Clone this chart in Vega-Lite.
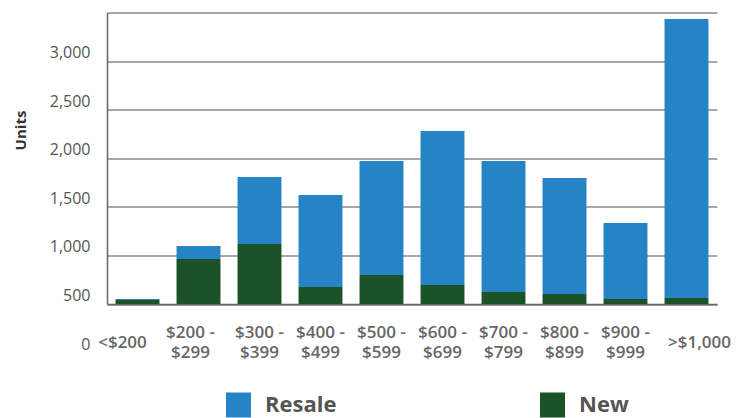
{
  "$schema": "https://vega.github.io/schema/vega-lite/v6.json",
  "width": 610,
  "height": 291.5,
  "autosize": {"type": "none"},
  "padding": {"left": 107, "top": 12.5, "right": 31, "bottom": 114},
  "background": "white",
  "config": {"view": {"stroke": null}, "font": "Open Sans"},
  "data": {
    "values": [
      {"range": "<$200", "type": "New", "units": 41},
      {"range": "<$200", "type": "Resale", "units": 10},
      {"range": "$200 - $299", "type": "New", "units": 463},
      {"range": "$200 - $299", "type": "Resale", "units": 134},
      {"range": "$300 - $399", "type": "New", "units": 617},
      {"range": "$300 - $399", "type": "Resale", "units": 690},
      {"range": "$400 - $499", "type": "New", "units": 175},
      {"range": "$400 - $499", "type": "Resale", "units": 946},
      {"range": "$500 - $599", "type": "New", "units": 298},
      {"range": "$500 - $599", "type": "Resale", "units": 1173},
      {"range": "$600 - $699", "type": "New", "units": 195},
      {"range": "$600 - $699", "type": "Resale", "units": 1585},
      {"range": "$700 - $799", "type": "New", "units": 123},
      {"range": "$700 - $799", "type": "Resale", "units": 1348},
      {"range": "$800 - $899", "type": "New", "units": 103},
      {"range": "$800 - $899", "type": "Resale", "units": 1193},
      {"range": "$900 - $999", "type": "New", "units": 51},
      {"range": "$900 - $999", "type": "Resale", "units": 782},
      {"range": ">$1,000", "type": "New", "units": 62},
      {"range": ">$1,000", "type": "Resale", "units": 2870}
    ]
  },
  "mark": {"type": "bar"},
  "encoding": {
    "x": {
      "field": "range",
      "type": "nominal",
      "sort": null,
      "scale": {"paddingInner": 0.28, "paddingOuter": 0.14},
      "axis": {
        "title": null,
        "labelAngle": 0,
        "labelExpr": "indexof(datum.value, ' - ') > 0 ? [slice(datum.value, 0, indexof(datum.value, ' - ') + 2), slice(datum.value, indexof(datum.value, ' - ') + 3)] : datum.value",
        "labelFont": "Open Sans",
        "labelFontSize": 17,
        "labelFontWeight": 600,
        "labelColor": "#666666",
        "labelBaseline": "middle",
        "labelLineHeight": 20,
        "labelPadding": {"condition": {"test": "datum.value == '<$200' || datum.value == '>$1,000'", "value": 38}, "value": 28},
        "labelOffset": {"condition": [
          {"test": "datum.value == '<$200'", "value": -15},
          {"test": "datum.value == '$200 - $299'", "value": -8},
          {"test": "datum.value == '>$1,000'", "value": 13}
        ], "value": 0},
        "ticks": false,
        "domainColor": "#666666",
        "domainWidth": 1.5,
        "grid": false
      }
    },
    "y": {
      "field": "units",
      "type": "quantitative",
      "stack": "zero",
      "scale": {"domain": [0, 3000], "nice": false},
      "axis": {
        "title": "Units",
        "titleFont": "Open Sans",
        "titleFontSize": 15,
        "titleFontWeight": "bold",
        "titleColor": "#333333",
        "titleAngle": -90,
        "titleAlign": "center",
        "titleBaseline": "middle",
        "titleX": -87,
        "titleY": 117.5,
        "values": [0, 500, 1000, 1500, 2000, 2500, 3000],
        "format": ",.0f",
        "labelFont": "Open Sans",
        "labelFontSize": 16,
        "labelColor": "#555555",
        "labelOffset": 40,
        "labelPadding": 17,
        "ticks": false,
        "domainColor": "#666666",
        "domainWidth": 1.5,
        "grid": true,
        "gridColor": "#8a8a8a",
        "gridWidth": 1.5
      }
    },
    "color": {
      "field": "type",
      "type": "nominal",
      "scale": {"domain": ["Resale", "New"], "range": ["#2683c6", "#1b5227"]},
      "legend": {
        "title": null,
        "orient": "none",
        "direction": "horizontal",
        "legendX": 119,
        "legendY": 380,
        "symbolType": "square",
        "symbolSize": 625,
        "symbolStrokeWidth": 0,
        "labelFont": "Open Sans",
        "labelFontSize": 22,
        "labelFontWeight": "bold",
        "labelColor": "#555555",
        "labelOffset": 14,
        "columnPadding": 203,
        "padding": 0
      }
    },
    "order": {"field": "type", "sort": "ascending"}
  }
}
